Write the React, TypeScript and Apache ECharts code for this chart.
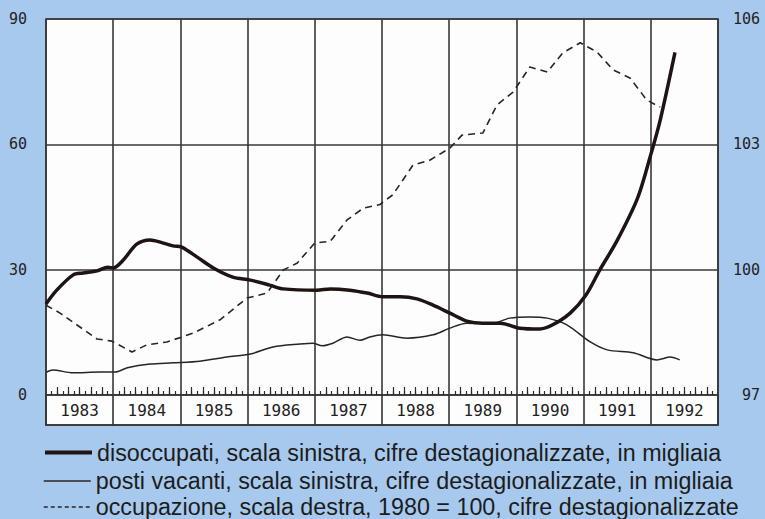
import React, { useEffect, useRef } from "react";
import * as echarts from "echarts";

// ---- data ----
const yearLabels = ["1983", "1984", "1985", "1986", "1987", "1988", "1989", "1990", "1991", "1992"];

const legendNames = [
  "disoccupati, scala sinistra, cifre destagionalizzate, in migliaia",
  "posti vacanti, scala sinistra, cifre destagionalizzate, in migliaia",
  "occupazione, scala destra, 1980 = 100, cifre destagionalizzate",
];

// disoccupati (left scale, thousands)
const unempTime = [
  1983.0, 1983.16, 1983.4, 1983.55, 1983.76, 1983.92, 1984.0, 1984.15, 1984.35, 1984.55,
  1984.7, 1984.89, 1985.02, 1985.25, 1985.49, 1985.78, 1986.04, 1986.33, 1986.53, 1987.03,
  1987.23, 1987.52, 1987.78, 1988.01, 1988.27, 1988.52, 1988.76, 1989.01, 1989.26, 1989.5,
  1989.76, 1990.05, 1990.35, 1990.54, 1990.8, 1991.03, 1991.24, 1991.5, 1991.8, 1991.99,
  1992.14, 1992.36,
];
const unempValues = [
  21.8, 25.1, 28.7, 29.2, 29.7, 30.6, 30.4, 32.3, 36.1, 37.1,
  36.6, 35.7, 35.4, 33.0, 30.4, 28.2, 27.5, 26.3, 25.4, 25.1,
  25.4, 25.1, 24.4, 23.5, 23.5, 23.0, 21.5, 19.6, 17.7, 17.2,
  17.2, 16.0, 15.8, 16.8, 19.6, 23.8, 29.9, 37.0, 47.0, 57.0,
  65.8, 82.0,
];

// posti vacanti (left scale, thousands)
const vacTime = [
  1983.01, 1983.1, 1983.4, 1983.8, 1984.03, 1984.21, 1984.55, 1984.89, 1985.29, 1985.69,
  1986.04, 1986.38, 1986.78, 1986.97, 1987.11, 1987.27, 1987.48, 1987.67, 1987.82, 1988.01,
  1988.37, 1988.76, 1989.01, 1989.26, 1989.61, 1989.9, 1990.2, 1990.46, 1990.75, 1991.1,
  1991.35, 1991.74, 1992.09, 1992.29, 1992.43,
];
const vacValues = [
  5.5, 6.0, 5.3, 5.5, 5.5, 6.5, 7.4, 7.7, 8.1, 9.1,
  9.8, 11.5, 12.2, 12.4, 11.8, 12.4, 13.9, 13.1, 13.9, 14.4,
  13.6, 14.4, 16.0, 17.2, 17.0, 18.4, 18.7, 18.4, 16.8, 12.7,
  10.8, 10.1, 8.4, 9.1, 8.4,
];

// occupazione (right scale, 1980 = 100)
const empTime = [
  1983.0, 1983.21, 1983.76, 1983.98, 1984.28, 1984.5, 1984.8, 1985.19, 1985.59, 1985.99,
  1986.29, 1986.53, 1986.74, 1987.0, 1987.23, 1987.48, 1987.72, 1987.97, 1988.16, 1988.46,
  1988.71, 1989.01, 1989.19, 1989.5, 1989.71, 1989.95, 1990.2, 1990.46, 1990.69, 1990.95,
  1991.2, 1991.44, 1991.69, 1991.94, 1992.14,
];
const empValues = [
  99.15, 98.96, 98.34, 98.29, 98.03, 98.2, 98.27, 98.48, 98.8, 99.32,
  99.44, 99.99, 100.16, 100.64, 100.68, 101.19, 101.47, 101.56, 101.79, 102.5,
  102.62, 102.91, 103.22, 103.27, 103.94, 104.25, 104.85, 104.73, 105.19, 105.43,
  105.21, 104.78, 104.59, 104.06, 103.89,
];

const leftTicks = { min: 0, max: 90, interval: 30 };
const rightTicks = { min: 97, max: 106, interval: 3 };

const pair = (t: number[], v: number[]) => t.map((x, i) => [x, v[i]]);

export default function App() {
  const ref = useRef<HTMLDivElement>(null);

  useEffect(() => {
    document.body.style.margin = "0";
    if (!ref.current) return;
    const chart = echarts.init(ref.current, null, { renderer: "svg" });
    const ink = "#2a2424";
    const gridLine = { color: "#383838", width: 1.6 };
    const monoLabel = { fontFamily: "DejaVu Sans Mono", fontSize: 15, color: "#222" };
    const legendText = { fontFamily: "Liberation Sans", fontSize: 23.3, color: "#1c1c1c", lineHeight: 23 };

    const mkLegend = (name: string, top: number, lineStyle: any) => ({
      show: true,
      data: [name],
      left: 43,
      top,
      orient: "vertical",
      itemWidth: 47,
      itemHeight: 23,
      selectedMode: false,
      padding: 0,
      textStyle: legendText,
      lineStyle,
      itemStyle: { opacity: 0 },
    });

    chart.setOption({
      animation: false,
      backgroundColor: "#a8c9ee",
      grid: [
        { left: 46, right: 47, top: 19, height: 376, show: true, backgroundColor: "#fdfdfd", borderColor: "#333", borderWidth: 1.6 },
        { left: 46, right: 47, top: 395, height: 30, show: true, backgroundColor: "#fdfdfd", borderColor: "#333", borderWidth: 1.6 },
      ],
      legend: [
        mkLegend(legendNames[0], 441, { color: "#1e1414", width: 4, type: "solid" }),
        mkLegend(legendNames[1], 469.5, { color: ink, width: 1.5, type: "solid" }),
        mkLegend(legendNames[2], 495.5, { color: ink, width: 1.5, type: [4, 3] }),
      ],
      xAxis: [
        {
          type: "value", gridIndex: 0, min: 1983, max: 1993, interval: 1, position: "bottom",
          axisLine: { show: false }, axisLabel: { show: false },
          axisTick: { show: false, inside: true },
          splitLine: { show: true, lineStyle: gridLine },
          minorTick: { show: true, splitNumber: 12, length: 4, lineStyle: { color: "#2a2a2a", width: 1.2 } },
        },
        {
          type: "value", gridIndex: 0, min: 1983, max: 1993, interval: 1, position: "bottom",
          axisLine: { show: false }, axisLabel: { show: false },
          axisTick: { show: false, inside: true },
          splitLine: { show: false },
          minorTick: { show: true, splitNumber: 6, length: 8, lineStyle: { color: "#2a2a2a", width: 1.2 } },
        },
        {
          type: "category", gridIndex: 1, data: yearLabels, boundaryGap: true, position: "bottom",
          axisLine: { show: true, lineStyle: { color: "#333", width: 1.6 } },
          axisTick: { show: true, inside: true, length: 30, lineStyle: { color: "#333", width: 1.6 } },
          axisLabel: { inside: true, margin: 7, ...monoLabel, fontSize: 16 },
          splitLine: { show: false },
        },
      ],
      yAxis: [
        {
          type: "value", gridIndex: 0, position: "left", ...leftTicks,
          axisLine: { show: false }, axisTick: { show: false },
          axisLabel: { margin: 19, ...monoLabel, padding: [5, 0, 0, 0] },
          splitLine: { show: true, lineStyle: gridLine },
        },
        {
          type: "value", gridIndex: 0, position: "right", ...rightTicks,
          axisLine: { show: false }, axisTick: { show: false },
          axisLabel: { margin: 42, align: "right", ...monoLabel, padding: [6, 0, 0, 0] },
          splitLine: { show: false },
        },
        { type: "value", gridIndex: 1, show: false },
      ],
      series: [
        {
          name: legendNames[0], type: "line", xAxisIndex: 0, yAxisIndex: 0,
          data: pair(unempTime, unempValues), symbol: "none", smooth: 0.3,
          lineStyle: { color: "#1e1414", width: 3.5 }, z: 5,
        },
        {
          name: legendNames[1], type: "line", xAxisIndex: 0, yAxisIndex: 0,
          data: pair(vacTime, vacValues), symbol: "none", smooth: 0.3,
          lineStyle: { color: ink, width: 1.5 }, z: 4,
        },
        {
          name: legendNames[2], type: "line", xAxisIndex: 0, yAxisIndex: 1,
          data: pair(empTime, empValues), symbol: "none",
          lineStyle: { color: ink, width: 1.6, type: [7, 5] }, z: 4,
        },
      ],
    });
    return () => chart.dispose();
  }, []);

  return <div ref={ref} style={{ position: "fixed", left: 0, top: 0, width: 765, height: 519 }} />;
}
